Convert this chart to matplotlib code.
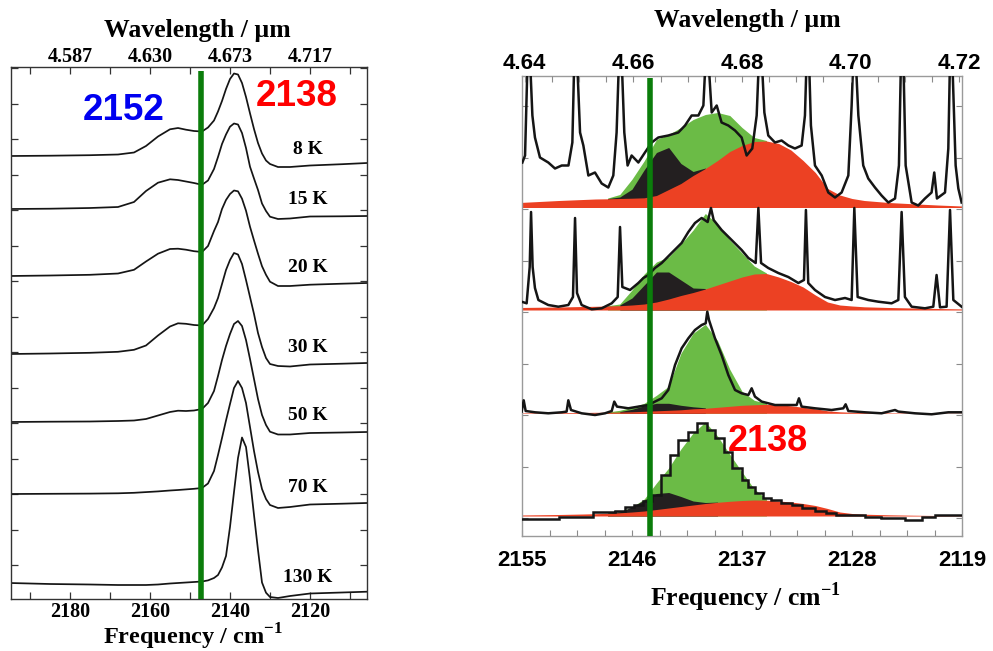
import numpy as np
import matplotlib
matplotlib.use('Agg')
import matplotlib.pyplot as plt
from matplotlib.ticker import FixedLocator, MultipleLocator

plt.rcParams['mathtext.fontset'] = 'custom'
plt.rcParams['mathtext.rm'] = 'Liberation Serif:bold'
plt.rcParams['mathtext.bf'] = 'Liberation Serif:bold'

# ---------------- Left panel: temperature series ----------------
freq_left = [2195, 2185, 2175, 2168, 2164, 2161, 2158, 2155, 2153, 2151, 2149, 2147, 2145.5,
             2144, 2143, 2142, 2141, 2140, 2139, 2138, 2137, 2136, 2135, 2134, 2133, 2132,
             2131, 2130, 2128, 2125, 2120, 2112, 2105.75]
temps = ['8 K', '15 K', '20 K', '30 K', '50 K', '70 K', '130 K']
abs_8K = [0, 0.3, 0.8, 1.5, 3.5, 10, 19.5, 26.7, 28, 26.3, 25, 24.5, 28.5, 35.5, 44.5, 55, 67, 77,
          82.5, 81.5, 73, 59, 42.7, 27, 13, 2.5, -4.5, -8, -11, -11, -9.5, -8.2, -7]
abs_15K = [0, 0.3, 1, 2, 7, 18, 26.3, 29.7, 29, 27.5, 26, 24.2, 28.5, 40, 52, 65, 74.5, 82.3,
           85.5, 84.5, 76, 61, 42.3, 30.5, 19, 5.5, -2, -7.7, -10, -9.5, -7.5, -7.3, -7]
abs_20K = [0, 0.5, 1.2, 2.5, 6.2, 14.5, 22.3, 27, 27.3, 26.3, 24.8, 24, 30, 45, 54, 67, 76, 82,
           85.5, 84.7, 77.3, 65.3, 49.3, 35.6, 22.3, 9.8, 1.2, -5.7, -10, -10, -8.7, -7.7, -7]
abs_30K = [0, 0.5, 1.2, 2.2, 4.2, 8.5, 18.5, 27.5, 30.7, 30.2, 29, 28.5, 35, 46, 56, 70, 84, 94,
           101, 99.5, 90, 74, 57, 40, 21, 7, -4, -10, -12, -12.5, -10.5, -9.7, -9]
abs_50K = [0, 0.3, 0.5, 1, 1.5, 3, 6.5, 10, 11.3, 11, 11.5, 13, 19, 31, 46, 62, 76, 88, 98, 101,
           96, 82, 63, 43, 23, 7, -3, -9.7, -12.5, -12.5, -11, -10.5, -10]
abs_70K = [0, 0.2, 0.4, 0.7, 1.2, 1.9, 2.6, 3.5, 4, 4.6, 5.2, 6, 10.5, 23, 39, 56, 73.5, 90, 106,
           113, 106, 91, 67, 43, 22, 5, -5, -11, -14, -13, -10.5, -9.7, -9]
abs_130K = [0, -1, -1.5, -2, -2, -2, -1.5, -0.5, 0, 0.5, 1, 1.5, 2.6, 5, 8, 15.6, 27, 56, 91, 125,
            145.5, 136, 104, 68, 33, 0.5, -9.7, -14, -15, -13, -10.5, -9.5, -8.7]
left_curves = [abs_8K, abs_15K, abs_20K, abs_30K, abs_50K, abs_70K, abs_130K]
left_offsets = [443, 390, 323, 245, 177, 105, 16]
temp_label_y = [450, 399, 331, 252, 184, 112, 21]
left_freq_ticks = [2190, 2180, 2170, 2160, 2150, 2140, 2130, 2120, 2110]
left_freq_labels = [2180, 2160, 2140, 2120]
left_marker_freq = 2147.2

# ---------------- Right panel: fitted spectra ----------------
freq_fit = [2155.2, 2152, 2150, 2149, 2148, 2147, 2146, 2145, 2144, 2143, 2142, 2141, 2140, 2139,
            2138, 2137, 2136, 2135, 2134, 2133, 2132, 2131, 2130, 2129, 2128, 2127, 2125, 2123,
            2121, 2118.6]
red_1 = [5, 7, 8, 8.5, 8.7, 9, 9.3, 9.7, 12, 18, 24, 32, 39, 47, 56, 62, 66, 66.5, 64, 57.5,
         47, 35, 19, 12.5, 9, 7, 5, 3.7, 2.5, 1.3]
black_1 = [0, 0, 0, 0, 0.2, 1.5, 9, 28, 43, 42, 20, 4, 0.5, 0, 0, 0, 0, 0, 0, 0,
           0, 0, 0, 0, 0, 0, 0, 0, 0, 0]
green_1 = [0, 0, 0, 0, 0.5, 2.5, 10, 9, 13, 13, 36, 52, 53.5, 48, 36, 18, 4, 0.5, 0, 0,
           0, 0, 0, 0, 0, 0, 0, 0, 0, 0]
red_2 = [2.5, 3, 3.5, 3.7, 4, 4.3, 5, 6, 8, 11, 14.5, 17.5, 21, 25, 29, 33, 36, 36.5, 33, 28.5,
         23, 15, 8, 5, 4, 3.2, 2.5, 2, 1.5, 1]
black_2 = [0, 0, 0, 0, 0, 0.7, 7, 19, 30, 27, 15.5, 4.5, 0.5, 0, 0, 0, 0, 0, 0, 0,
           0, 0, 0, 0, 0, 0, 0, 0, 0, 0]
green_2 = [0, 0, 0, 0, 0.3, 1, 8, 11, 10, 15, 36, 58, 75, 61, 41, 24, 8, 0.5, 0, 0,
           0, 0, 0, 0, 0, 0, 0, 0, 0, 0]
red_3 = [0.5, 0.7, 0.8, 1, 1, 1.2, 1.5, 2, 2.5, 3, 3.5, 4.5, 5, 6, 7, 8, 8.5, 9, 8.5, 7.5,
         6, 4.5, 2.5, 1.5, 1, 0.8, 0.5, 0.4, 0.3, 0.2]
black_3 = [0, 0, 0, 0, 0, 0.5, 2.5, 5.5, 7.5, 7, 4.5, 2, 0.5, 0, 0, 0, 0, 0, 0, 0,
           0, 0, 0, 0, 0, 0, 0, 0, 0, 0]
green_3 = [0, 0, 0, 0, 0.3, 1.3, 2, 2.5, 8, 17, 52, 73.5, 83.5, 66.7, 37, 14, 4.5, 1, 0, 0,
           0, 0, 0, 0, 0, 0, 0, 0, 0, 0]
red_4 = [1, 1.5, 2, 2.3, 2.7, 3.2, 4, 5, 6.5, 8, 9.5, 11, 12.5, 13.7, 14.7, 15.5, 16, 15.8, 15, 14,
         12.5, 10.5, 7.5, 4, 2.5, 1.8, 1.2, 0.8, 0.5, 0.3]
black_4 = [0, 0, 0, 0, 0.2, 1, 5, 11, 16, 15.5, 10, 4, 1, 0.2, 0, 0, 0, 0, 0, 0,
           0, 0, 0, 0, 0, 0, 0, 0, 0, 0]
green_4 = [0, 0, 0, 0, 0, 0, 0, 1, 10.5, 24.5, 47.5, 68, 80.5, 66, 47, 28.5, 11, 1.2, 0, 0,
           0, 0, 0, 0, 0, 0, 0, 0, 0, 0]

# measured spectra (spikes of gas-phase lines exceed the frame in the top trace)
freq_obs_1 = [2154.97, 2154.75, 2154.54, 2154.35, 2154.15, 2153.94, 2153.53, 2152.85, 2152.3, 2151.75,
              2151.2, 2150.88, 2150.72, 2150.5, 2150.25, 2149.98, 2149.57, 2149.03, 2148.48, 2147.94,
              2147.53, 2147.26, 2147.06, 2146.85, 2146.63, 2146.36, 2146.03, 2145.48, 2144.94, 2144.39,
              2143.85, 2143.03, 2142.21, 2141.66, 2141.12, 2140.57, 2140.16, 2139.97, 2139.76, 2139.48,
              2139.07, 2138.67, 2138.12, 2137.57, 2137.03, 2136.62, 2136.16, 2135.8, 2135.61, 2135.39,
              2135.17, 2134.85, 2134.3, 2133.76, 2133.21, 2132.67, 2132.12, 2131.85, 2131.71, 2131.52,
              2131.36, 2131.03, 2130.48, 2129.94, 2129.39, 2128.85, 2128.3, 2128.03, 2127.89, 2127.7,
              2127.48, 2127.08, 2126.67, 2126.12, 2125.58, 2125.03, 2124.48, 2124.16, 2123.99, 2123.8,
              2123.61, 2123.12, 2122.58, 2122.03, 2121.49, 2121.27, 2121.05, 2120.39, 2120.12, 2119.98,
              2119.8, 2119.52, 2119.3, 2119.03]
int_obs_1 = [45, 52, 150, 150, 92, 70, 50, 45, 39, 42,
             42, 65, 150, 150, 75, 62, 32, 35, 24, 20,
             32, 75, 150, 150, 75, 42, 52, 45, 55, 65,
             70, 72, 75, 82, 92, 92, 102, 150, 150, 95,
             102, 85, 82, 77, 70, 52, 59, 92, 150, 150,
             95, 72, 65, 67, 62, 59, 62, 92, 150, 150,
             82, 42, 32, 15, 10, 15, 32, 102, 150, 150,
             92, 42, 29, 20, 12, 5, 9, 42, 150, 150,
             42, 5, 2, 9, 15, 35, 9, 15, 59, 150,
             150, 42, 19, 5]
freq_obs_2 = [2155.03, 2154.62, 2154.37, 2154.26, 2154.13, 2153.94, 2153.66, 2152.85, 2152.03, 2151.21,
              2150.83, 2150.66, 2150.5, 2150.12, 2149.3, 2148.48, 2147.66, 2147.17, 2146.98, 2146.79,
              2146.16, 2145.48, 2145.07, 2144.66, 2144.12, 2143.57, 2142.76, 2141.94, 2141.39, 2140.85,
              2140.3, 2139.81, 2139.54, 2139.32, 2138.67, 2137.85, 2137.03, 2136.48, 2135.88, 2135.66,
              2135.44, 2134.85, 2134.03, 2133.21, 2132.39, 2131.93, 2131.77, 2131.58, 2131.03, 2130.21,
              2129.39, 2128.57, 2128.03, 2127.81, 2127.54, 2126.67, 2125.85, 2124.76, 2124.21, 2123.94,
              2123.67, 2123.12, 2122.03, 2121.35, 2121.08, 2120.8, 2120.26, 2119.98, 2119.71, 2119.03]
int_obs_2 = [8.3, 6.7, 43, 98, 43, 22, 10, 5, 3.3, 5,
             13, 92, 17, 5, 0.7, 1.7, 6.7, 13, 83, 23,
             20, 27, 32, 35, 42, 47, 57, 67, 78, 87,
             92, 88, 102, 90, 80, 70, 60, 52, 47, 102,
             47, 42, 37, 33, 27, 30, 100, 27, 20, 13,
             10, 12, 10, 102, 13, 10, 8.3, 6.7, 10, 98,
             13, 3.3, 1.7, 3.3, 35, 2.7, 3.3, 100, 10, 3.3]
freq_obs_3 = [2155.03, 2154.86, 2154.7, 2153.94, 2152.85, 2151.75, 2151.35, 2151.21, 2150.99, 2150.12,
              2149.03, 2148.21, 2147.66, 2147.45, 2147.23, 2146.3, 2145.48, 2144.66, 2144.12, 2143.57,
              2143.03, 2142.48, 2141.94, 2141.39, 2140.85, 2140.3, 2139.97, 2139.84, 2139.7, 2139.21,
              2138.67, 2138.12, 2137.57, 2137.03, 2136.48, 2136.21, 2135.94, 2135.39, 2134.3, 2133.21,
              2132.53, 2132.34, 2132.12, 2131.03, 2129.67, 2128.71, 2128.52, 2128.3, 2126.94, 2125.58,
              2124.48, 2124.21, 2122.85, 2121.49, 2120.12, 2119.03]
int_obs_3 = [1.7, 13, 2.3, 1, 0, 1, 1.7, 13, 3.3, 0,
             -1.7, 0, 2.3, 11.7, 6.7, 5, 6.7, 8.3, 11.7, 15,
             23.3, 48.3, 65, 75, 83.3, 88.3, 90, 101.7, 93.3, 75,
             58.3, 38.3, 23.3, 20, 18.3, 25, 16.7, 11.7, 8.3, 8.3,
             8.3, 15, 6.7, 5, 3.3, 5, 9, 2.3, 1, 0,
             3.3, 1.7, 0, -1, 1, 1]
# bottom trace is a binned (histogram) spectrum
bin_edges_4 = [2155.2, 2152, 2149.2, 2147.4, 2146.6, 2145.8, 2145.1, 2144.4, 2143.6, 2142.9,
               2142.2, 2141.4, 2140.7, 2139.9, 2139.2, 2138.5, 2137.8, 2137.0, 2136.5, 2135.9,
               2135.3, 2134.6, 2133.8, 2132.9, 2132.1, 2131.0, 2130.1, 2129.3, 2126.9, 2125.6,
               2123.7, 2122.3, 2121.2, 2118.6]
bin_values_4 = [-2.5, -1.2, 3.7, 5, 9.3, 11, 15, 21, 41, 61,
                76, 84, 93, 86, 78, 64, 48, 36, 29, 23,
                18, 16, 13, 11, 7.7, 5, 2.7, 1, -0.7, -2.3,
                -4, -0.7, 1]
right_offsets = [328.5, 226, 122.7, 20]
right_freq_ticks = [2155, 2146, 2137, 2128, 2119]
right_wl_ticks = [4.64, 4.66, 4.68, 4.70, 4.72]
right_marker_freq = 2144.5

RED = '#ec4123'
GREEN = '#6bbb46'
BLACKF = '#231f20'
MARK = '#0b7d0b'

W, H = 993, 651
fig = plt.figure(figsize=(W / 100, H / 100), dpi=100)


def rect(l, t, r, b):
    return [l / W, 1 - b / H, (r - l) / W, (b - t) / H]


serif = dict(fontfamily='Liberation Serif', fontweight='bold')
sans = dict(fontfamily='Liberation Sans', fontweight='bold')

# ======== Left axes ========
axL = fig.add_axes(rect(11, 67, 367, 599))
axL.set_xlim(2194.75, 2105.75)
axL.set_ylim(0, 532)
for off, vals in zip(left_offsets, left_curves):
    axL.plot(freq_left, off + np.asarray(vals, float), color='#151515', lw=1.25)
for lab, y in zip(temps, temp_label_y):
    axL.text(2120.5, y, lab, ha='center', va='center', fontsize=14, **serif)
axL.plot([left_marker_freq] * 2, [0, 528.3], color=MARK, lw=4, solid_capstyle='butt', zorder=5)
axL.text(2166.5, 489, '2152', color='#0000f0', ha='center', va='center', fontsize=26.5, **sans)
axL.text(2123.25, 502, '2138', color='#ff0000', ha='center', va='center', fontsize=26.5, **sans)

axL.set_xticks(left_freq_ticks)
axL.set_xticklabels([str(f) if f in left_freq_labels else '' for f in left_freq_ticks],
                    fontsize=14.5, **serif)
axL.set_yticks(np.arange(34, 532, 35.5))
axL.set_yticklabels([])
axL.tick_params(axis='both', direction='in', length=5, width=0.9, colors='#333333',
                labelcolor='black', right=True, pad=2)
for s in axL.spines.values():
    s.set_color('#333333')
    s.set_linewidth(1.0)

axLt = axL.twiny()
axLt.set_xlim(axL.get_xlim())
axLt.set_xticks(left_freq_ticks)
axLt.set_xticklabels(['%.3f' % (1e4 / f) if f in left_freq_labels else '' for f in left_freq_ticks],
                     fontsize=14.5, **serif)
axLt.tick_params(axis='x', direction='in', length=5, width=0.9, colors='#333333',
                 labelcolor='black', pad=0)
for s in axLt.spines.values():
    s.set_visible(False)

fig.text(197 / W, 1 - 30 / H, 'Wavelength / µm', ha='center', va='center', fontsize=18.5, **serif)
fig.text(193 / W, 1 - 637 / H, r'Frequency / cm$^{-1}$', ha='center', va='center', fontsize=17.5, **serif)

# ======== Right axes ========
axR = fig.add_axes(rect(522, 75.5, 962, 536))
axR.set_xlim(2155, 2119)
axR.set_ylim(0, 460.5)
fits = [(red_1, black_1, green_1), (red_2, black_2, green_2),
        (red_3, black_3, green_3), (red_4, black_4, green_4)]
obs = [(freq_obs_1, int_obs_1), (freq_obs_2, int_obs_2), (freq_obs_3, int_obs_3)]
for i, (base, (r, k, g)) in enumerate(zip(right_offsets, fits)):
    r = np.asarray(r, float)
    k = np.asarray(k, float)
    g = np.asarray(g, float)
    axR.fill_between(freq_fit, base, base + r + k + g, where=(k + g) > 0,
                     color=GREEN, lw=0, zorder=2)
    axR.fill_between(freq_fit, base, base + r + k, where=k > 0,
                     color=BLACKF, lw=0, zorder=2)
    axR.fill_between(freq_fit, base, base + r, color=RED, lw=0, zorder=2)
    if i < 3:
        fo, io = obs[i]
        axR.plot(fo, base + np.asarray(io, float), color='#151515', lw=1.8, zorder=3)
    else:
        axR.stairs(base + np.asarray(bin_values_4, float), bin_edges_4, baseline=None,
                   color='#151515', lw=1.8, zorder=3)
axR.plot([right_marker_freq] * 2, [0, 458.3], color=MARK, lw=4, solid_capstyle='butt', zorder=5)
axR.text(2134.87, 94.3, '2138', color='#ff0000', ha='center', va='center', fontsize=26, **sans)

axR.set_xticks(right_freq_ticks)
axR.set_xticklabels([str(f) for f in right_freq_ticks], fontsize=16, **sans)
axR.xaxis.set_minor_locator(FixedLocator(np.arange(2119, 2155.01, 2.25)))
axR.set_yticks([430, 378.5, 327, 275.5, 224, 172.5, 121, 69.5, 18])
axR.set_yticklabels([])
axR.tick_params(axis='both', which='both', direction='in', length=4, width=0.8,
                colors='#8a8a8a', labelcolor='black', right=True)
axR.tick_params(axis='x', pad=10)
for s in axR.spines.values():
    s.set_color('#9a9a9a')
    s.set_linewidth(1.0)

axRt = axR.twiny()
axRt.set_xlim(4.6395, 4.7205)
axRt.set_xticks(right_wl_ticks)
axRt.set_xticklabels(['%.2f' % w for w in right_wl_ticks], fontsize=16, **sans)
axRt.xaxis.set_minor_locator(MultipleLocator(0.005))
axRt.tick_params(axis='x', which='both', direction='in', length=4, width=0.8,
                 colors='#8a8a8a', labelcolor='black', pad=1)
for s in axRt.spines.values():
    s.set_visible(False)

fig.text(747 / W, 1 - 20 / H, 'Wavelength / µm', ha='center', va='center', fontsize=18.5, **serif)
fig.text(745 / W, 1 - 597 / H, r'Frequency / cm$^{-1}$', ha='center', va='center', fontsize=18.5, **serif)

fig.savefig('out.png', dpi=100)
